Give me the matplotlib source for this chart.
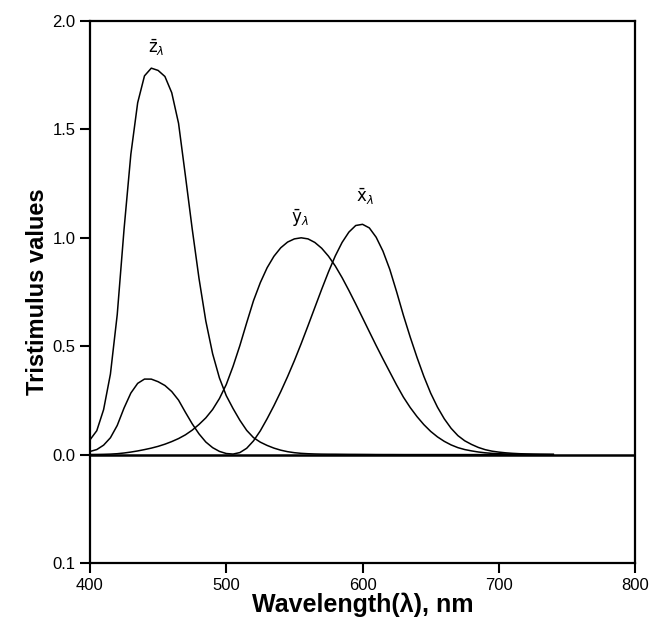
import numpy as np
import matplotlib
matplotlib.use("Agg")
import matplotlib.pyplot as plt

# CIE 1931 colour matching functions, 5 nm steps from 400 to 740 nm
wavelength = np.arange(400, 745, 5)
x_bar = [0.0143, 0.0232, 0.0435, 0.0776, 0.1344, 0.2148, 0.2839, 0.3285, 0.3483, 0.3481,
         0.3362, 0.3187, 0.2908, 0.2511, 0.1954, 0.1421, 0.0956, 0.0580, 0.0320, 0.0147,
         0.0049, 0.0024, 0.0093, 0.0291, 0.0633, 0.1096, 0.1655, 0.2257, 0.2904, 0.3597,
         0.4334, 0.5121, 0.5945, 0.6784, 0.7621, 0.8425, 0.9163, 0.9786, 1.0263, 1.0567,
         1.0622, 1.0456, 1.0026, 0.9384, 0.8544, 0.7514, 0.6424, 0.5419, 0.4479, 0.3608,
         0.2835, 0.2187, 0.1649, 0.1212, 0.0874, 0.0636, 0.0468, 0.0329, 0.0227, 0.0158,
         0.0114, 0.0081, 0.0058, 0.0041, 0.0029, 0.0020, 0.0014, 0.0010, 0.0007]
y_bar = [0.0004, 0.0006, 0.0012, 0.0022, 0.0040, 0.0073, 0.0116, 0.0168, 0.0230, 0.0298,
         0.0380, 0.0480, 0.0600, 0.0739, 0.0910, 0.1126, 0.1390, 0.1693, 0.2080, 0.2586,
         0.3230, 0.4073, 0.5030, 0.6082, 0.7100, 0.7932, 0.8620, 0.9149, 0.9540, 0.9803,
         0.9950, 1.0000, 0.9950, 0.9786, 0.9520, 0.9154, 0.8700, 0.8163, 0.7570, 0.6949,
         0.6310, 0.5668, 0.5030, 0.4412, 0.3810, 0.3210, 0.2650, 0.2170, 0.1750, 0.1382,
         0.1070, 0.0816, 0.0610, 0.0446, 0.0320, 0.0232, 0.0170, 0.0119, 0.0082, 0.0057,
         0.0041, 0.0029, 0.0021, 0.0015, 0.0010, 0.0007, 0.0005, 0.0004, 0.0002]
z_bar = [0.0679, 0.1102, 0.2074, 0.3713, 0.6456, 1.0391, 1.3856, 1.6230, 1.7471, 1.7826,
         1.7721, 1.7441, 1.6692, 1.5281, 1.2876, 1.0419, 0.8130, 0.6162, 0.4652, 0.3533,
         0.2720, 0.2123, 0.1582, 0.1117, 0.0782, 0.0573, 0.0422, 0.0298, 0.0203, 0.0134,
         0.0087, 0.0057, 0.0039, 0.0028, 0.0021, 0.0018, 0.0017, 0.0014, 0.0011, 0.0010,
         0.0008, 0.0006, 0.0003, 0.0002, 0.0002, 0.0001, 0.0000, 0.0000, 0.0000, 0.0000,
         0.0000, 0.0000, 0.0000, 0.0000, 0.0000, 0.0000, 0.0000, 0.0000, 0.0000, 0.0000,
         0.0000, 0.0000, 0.0000, 0.0000, 0.0000, 0.0000, 0.0000, 0.0000, 0.0000]

y_ticks = [-0.5, 0.0, 0.5, 1.0, 1.5, 2.0]
y_ticklabels = ["0.1", "0.0", "0.5", "1.0", "1.5", "2.0"]
x_ticks = [400, 500, 600, 700, 800]

plt.rcParams["font.family"] = ["Liberation Sans", "DejaVu Sans"]

fig = plt.figure(figsize=(6.65, 6.22), dpi=100)
ax = fig.add_axes([0.1353, 0.0949, 0.8197, 0.8713])

for curve in (x_bar, y_bar, z_bar):
    ax.plot(wavelength, curve, color="black", lw=1.1)
ax.axhline(0, color="black", lw=1.8)

# curve labels, upright letters like the original
ax.text(449, 1.83, r"$\bar{\mathrm{z}}_\lambda$", fontsize=12, ha="center", va="bottom")
ax.text(554, 1.04, r"$\bar{\mathrm{y}}_\lambda$", fontsize=12, ha="center", va="bottom")
ax.text(602, 1.14, r"$\bar{\mathrm{x}}_\lambda$", fontsize=12, ha="center", va="bottom")

ax.set_xlim(400, 800)
ax.set_ylim(-0.5, 2.0)
ax.set_xticks(x_ticks)
ax.set_yticks(y_ticks)
ax.set_yticklabels(y_ticklabels)
ax.tick_params(direction="out", length=7, width=1.5, labelsize=12)
for s in ax.spines.values():
    s.set_linewidth(1.6)

ax.set_xlabel("Wavelength(λ), nm", fontsize=18, fontweight="bold", labelpad=0)
ax.set_ylabel("Tristimulus values", fontsize=17, fontweight="bold", labelpad=2)

fig.savefig("out.png", dpi=100)
